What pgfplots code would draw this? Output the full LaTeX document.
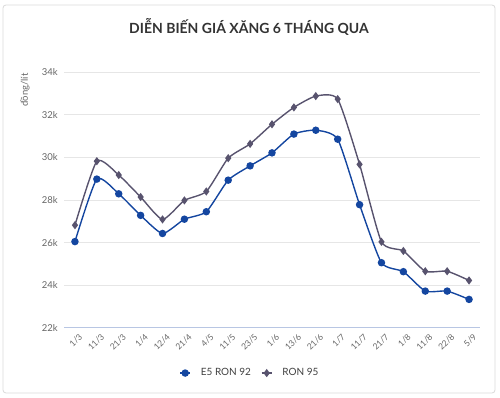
\documentclass[border=0pt]{standalone}
\usepackage{pgfplots}
\pgfplotsset{compat=1.18}
\usepackage{fontspec}
\setmainfont{Lato}
\definecolor{eblue}{HTML}{1446A0}
\definecolor{rgray}{HTML}{58536E}
\definecolor{gridc}{HTML}{E6E6E6}
\definecolor{tickc}{HTML}{666666}
\definecolor{xline}{HTML}{B8C6E3}
\begin{document}
\begin{tikzpicture}[x=1pt,y=1pt]
\useasboundingbox (0,0) rectangle (500,398);
\draw[rounded corners=3pt, draw=black!15, line width=0.8pt] (3,5) rectangle (495,393);
\node[font=\bfseries\fontsize{14}{16}\selectfont, text=black!80] at (249,371) {DIỄN BIẾN GIÁ XĂNG 6 THÁNG QUA};
\node[rotate=90, font=\fontsize{9.5}{10}\selectfont, text=tickc] at (25,308) {đồng/lít};
\draw[xline, line width=1pt] (64,70) -- (480,70);
\begin{axis}[
  at={(64pt,70pt)}, anchor=south west,
  scale only axis, width=416pt, height=256pt,
  xmin=-0.5, xmax=18.5, ymin=22, ymax=34,
  xtick={0,...,18},
  xticklabels={1/3,11/3,21/3,1/4,12/4,21/4,4/5,11/5,23/5,1/6,13/6,21/6,1/7,11/7,21/7,1/8,11/8,22/8,5/9},
  ytick={24,26,28,30,32,34},
  extra y ticks={22}, extra y tick labels={22k},
  extra y tick style={grid=none},
  yticklabels={24k,26k,28k,30k,32k,34k},
  /pgf/number format/assume math mode=true,
  x tick label style={rotate=45, anchor=north east, font=\fontsize{8.5}{9}\selectfont, text=tickc, inner sep=1pt, yshift=-5pt},
  y tick label style={font=\fontsize{9.5}{10}\selectfont, text=tickc, inner sep=2pt, xshift=-4pt},
  major tick length=0pt,
  xmajorgrids=false, ymajorgrids=true,
  major grid style={gridc, line width=0.8pt},
  axis line style={draw=none},
  tick style={draw=none},
  legend columns=2,
  legend style={at={(axis description cs:0.447,-0.176)}, anchor=center, draw=none, fill=none,
    font=\fontsize{10}{12}\selectfont, text=black!75, column sep=8pt},
  legend image code/.code={\draw[#1] (0pt,0pt) -- (10pt,0pt); \path[#1, draw=none] plot coordinates {(5pt,0pt)};},
]
\addplot[eblue, line width=1.4pt, smooth, tension=0.35, mark=*, mark size=3pt, mark options={solid}] coordinates {
(0,26.05) (1,28.98) (2,28.29) (3,27.28) (4,26.43) (5,27.10) (6,27.45) (7,28.93) (8,29.60) (9,30.21)
(10,31.09) (11,31.27) (12,30.85) (13,27.78) (14,25.06) (15,24.64) (16,23.73) (17,23.73) (18,23.34)};
\addlegendentry{E5 RON 92}
\addplot[rgray, line width=1.4pt, smooth, tension=0.35, mark=diamond*, mark size=3pt, mark options={solid}] coordinates {
(0,26.82) (1,29.82) (2,29.17) (3,28.14) (4,27.09) (5,27.98) (6,28.40) (7,29.96) (8,30.63) (9,31.55)
(10,32.34) (11,32.87) (12,32.73) (13,29.67) (14,26.04) (15,25.61) (16,24.66) (17,24.66) (18,24.23)};
\addlegendentry{RON 95}
\end{axis}
\end{tikzpicture}
\end{document}
